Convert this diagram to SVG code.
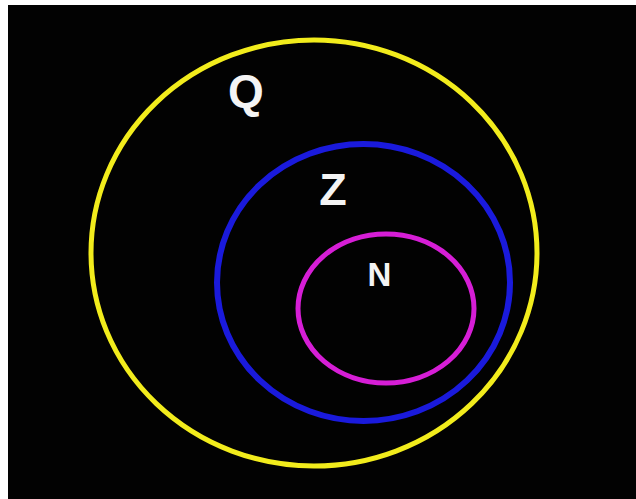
<svg xmlns="http://www.w3.org/2000/svg" width="636" height="499" viewBox="0 0 636 499">
<style>
.set{fill:none}
.lbl{font-family:"Liberation Sans",Arial,sans-serif;font-weight:bold;fill:#f4f4f4;text-anchor:middle}
</style>
<rect x="0" y="0" width="636" height="499" fill="#ffffff"/>
<rect x="8" y="5" width="628" height="494" fill="#020202"/>
<g id="Q">
<ellipse class="set" cx="314" cy="253" rx="223" ry="213" stroke="#f2ec1c" stroke-width="5"/>
<text class="lbl" x="246" y="107" font-size="46">Q</text>
</g>
<g id="Z">
<ellipse class="set" cx="363.5" cy="282.5" rx="146.5" ry="138.5" stroke="#1a1adc" stroke-width="6"/>
<text class="lbl" x="333" y="205" font-size="45">Z</text>
</g>
<g id="N">
<ellipse class="set" cx="386" cy="308.5" rx="88" ry="74.5" stroke="#d61ed6" stroke-width="5"/>
<text class="lbl" x="379.5" y="286" font-size="33">N</text>
</g>
<g id="connectors"/>
</svg>
